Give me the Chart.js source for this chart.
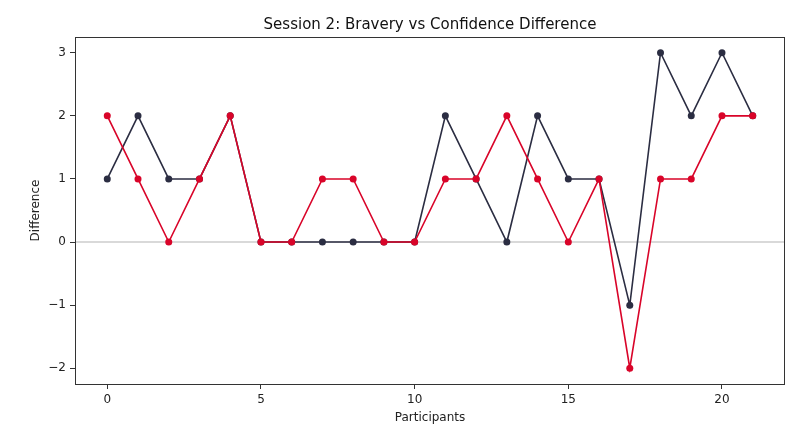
<!DOCTYPE html>
<html>
<head>
<meta charset="utf-8">
<script src="https://cdn.jsdelivr.net/npm/chart.js@4/dist/chart.umd.min.js"></script>
<style>
  html, body { margin: 0; padding: 0; background: #fff; }
  canvas { display: block; }
</style>
</head>
<body>
<canvas id="c" width="786" height="425"></canvas>
<script>
// Participant index along the x axis
const participants = [0,1,2,3,4,5,6,7,8,9,10,11,12,13,14,15,16,17,18,19,20,21];
// Difference values per participant
const seriesDark = [1,2,1,1,2,0,0,0,0,0,0,2,1,0,2,1,1,-1,3,2,3,2];
const seriesRed  = [2,1,0,1,2,0,0,1,1,0,0,1,1,2,1,0,1,-2,1,1,2,2];
const xTicks = [0,5,10,15,20];
const yTicks = [-2,-1,0,1,2,3];
const chartTitle = 'Session 2: Bravery vs Confidence Difference';

const DARK = '#2b2d42';
const RED = '#d90429';
const FONT = "'DejaVu Sans', sans-serif";

const toPoints = vals => participants.map((p, i) => ({ x: p, y: vals[i] }));

// Zero reference line under the data, a full frame around the plot,
// and the title centred over the plot area
const framePlugin = {
  id: 'frame',
  beforeDatasetsDraw(chart) {
    const { ctx, chartArea: a, scales: { y } } = chart;
    const y0 = y.getPixelForValue(0);
    ctx.save();
    ctx.strokeStyle = '#cccccc';
    ctx.lineWidth = 1.5;
    ctx.beginPath();
    ctx.moveTo(a.left, y0);
    ctx.lineTo(a.right, y0);
    ctx.stroke();
    ctx.restore();
  },
  afterDraw(chart) {
    const { ctx, chartArea: a } = chart;
    ctx.save();
    ctx.strokeStyle = '#333';
    ctx.lineWidth = 1;
    ctx.strokeRect(Math.round(a.left) + 0.5, Math.round(a.top) + 0.5,
                   Math.round(a.right - a.left) - 1, Math.round(a.bottom - a.top));
    ctx.fillStyle = '#111';
    ctx.font = '15px ' + FONT;
    ctx.textAlign = 'center';
    ctx.textBaseline = 'middle';
    ctx.fillText(chartTitle, (a.left + a.right) / 2, a.top - 12);
    ctx.restore();
  }
};

const fmt = v => (v < 0 ? '\u2212' + Math.abs(v) : String(v));

new Chart(document.getElementById('c'), {
  type: 'line',
  data: {
    datasets: [
      {
        data: toPoints(seriesRed),
        borderColor: RED,
        backgroundColor: RED,
        pointBackgroundColor: RED,
        pointBorderColor: RED,
        borderWidth: 1.6,
        pointRadius: 3.5,
        pointBorderWidth: 0,
        tension: 0,
        order: 1
      },
      {
        data: toPoints(seriesDark),
        borderColor: DARK,
        backgroundColor: DARK,
        pointBackgroundColor: DARK,
        pointBorderColor: DARK,
        borderWidth: 1.6,
        pointRadius: 3.5,
        pointBorderWidth: 0,
        tension: 0,
        order: 2
      }
    ]
  },
  options: {
    responsive: false,
    animation: false,
    devicePixelRatio: 1,
    layout: { autoPadding: false, padding: { left: 0, right: 1, top: 37, bottom: 0 } },
    plugins: {
      legend: { display: false },
      tooltip: { enabled: false },
      title: { display: false }
    },
    scales: {
      x: {
        type: 'linear',
        min: -1.05,
        max: 22.05,
        afterBuildTicks: s => { s.ticks = xTicks.map(v => ({ value: v })); },
        afterFit: s => { s.height = 41; s.paddingLeft = 0; s.paddingRight = 0; },
        grid: { display: true, drawOnChartArea: false, drawTicks: true, tickLength: 5, color: '#333' },
        border: { display: false },
        ticks: { color: '#222', font: { family: FONT, size: 12 }, padding: 4, maxRotation: 0, callback: v => fmt(v) },
        title: { display: true, text: 'Participants', color: '#222', font: { family: FONT, size: 12 }, padding: { top: 0, bottom: 0 } }
      },
      y: {
        type: 'linear',
        min: -2.25,
        max: 3.25,
        afterBuildTicks: s => { s.ticks = yTicks.map(v => ({ value: v })); },
        afterFit: s => { s.width = 75; s.paddingTop = 0; s.paddingBottom = 0; },
        grid: { display: true, drawOnChartArea: false, drawTicks: true, tickLength: 5, color: '#333' },
        border: { display: false },
        ticks: { color: '#222', font: { family: FONT, size: 12 }, padding: 4, callback: v => fmt(v) },
        title: { display: true, text: 'Difference', color: '#222', font: { family: FONT, size: 12 }, padding: { top: 29, bottom: 0 } }
      }
    }
  },
  plugins: [framePlugin]
});
</script>
</body>
</html>
